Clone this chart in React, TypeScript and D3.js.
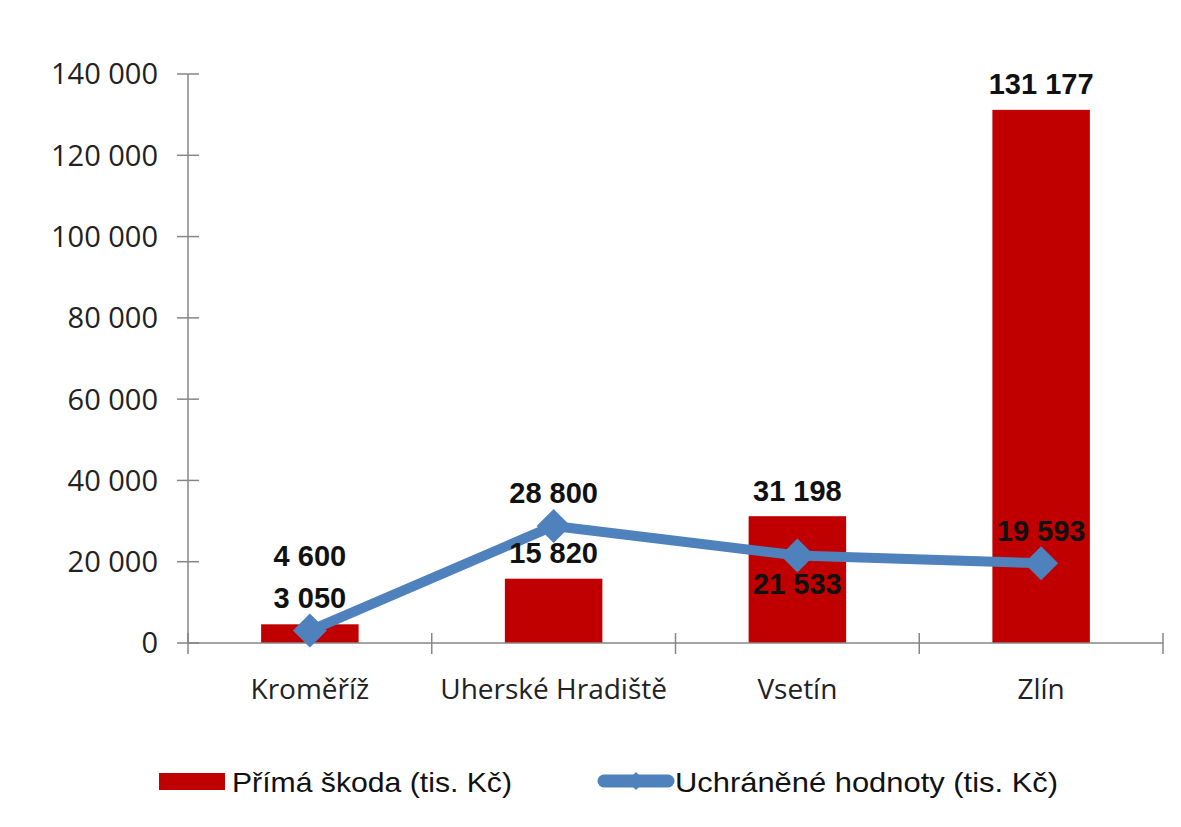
import React from "react";
import * as d3 from "d3";

const categories = ["Kroměříž", "Uherské Hradiště", "Vsetín", "Zlín"];
const primaSkoda = [4600, 15820, 31198, 131177];
const uchraneneHodnoty = [3050, 28800, 21533, 19593];
const lineLabelSide = ["above", "above", "below", "above"];
const yTicks = [0, 20000, 40000, 60000, 80000, 100000, 120000, 140000];
const seriesNames = ["Přímá škoda (tis. Kč)", "Uchráněné hodnoty (tis. Kč)"];

const W = 1181;
const H = 827;
const left = 188;
const right = 1163;
const top = 74;
const bottom = 643;

const BAR = "#C00000";
const LINE = "#4F81BD";
const AXIS = "#868686";

const fmt = (v: number) => d3.format(",")(v).replace(/,/g, " ");

export default function App() {
  const x = d3.scaleBand<string>().domain(categories).range([left, right]).paddingInner(0).paddingOuter(0);
  const y = d3.scaleLinear().domain([0, 140000]).range([bottom, top]);
  const bw = x.bandwidth() * 0.4;
  const cx = (c: string) => (x(c) as number) + x.bandwidth() / 2;

  const linePath = d3
    .line<number>()
    .x((_, i) => cx(categories[i]))
    .y((d) => y(d))(uchraneneHodnoty) as string;

  const diamond = (px: number, py: number, r: number) =>
    `M${px},${py - r}L${px + r},${py}L${px},${py + r}L${px - r},${py}Z`;

  const labelFont = "'Liberation Sans', Arial, sans-serif";
  const axisFont = "'Open Sans', 'DejaVu Sans', sans-serif";

  const lineLabelY = uchraneneHodnoty.map((v, i) =>
    lineLabelSide[i] === "above" ? y(v) - 33 : y(v) + 28
  );
  const barLabelY = primaSkoda.map((v, i) => {
    let c = y(v) - 26;
    if (Math.abs(c - lineLabelY[i]) < 36) c = lineLabelY[i] - 42;
    return c;
  });

  const boundaries = [...categories.map((c) => x(c) as number), right];

  return (
    <div style={{ position: "absolute", left: 0, top: 0 }}>
      <svg width={W} height={H} style={{ display: "block", background: "#fff" }}>
        <rect x={0} y={0} width={W} height={H} fill="#fff" />
        {/* y axis */}
        <line x1={left} x2={left} y1={top} y2={bottom} stroke={AXIS} strokeWidth={1.5} />
        {yTicks.map((t) => (
          <g key={t}>
            <line x1={left - 11} x2={left + 11} y1={y(t)} y2={y(t)} stroke={AXIS} strokeWidth={1.5} />
            <text
              x={158}
              y={y(t)}
              dy="0.36em"
              textAnchor="end"
              fontFamily={axisFont}
              fontSize={29}
              fill="#222"
            >
              {fmt(t)}
            </text>
          </g>
        ))}
        {/* bars */}
        {primaSkoda.map((v, i) => (
          <rect
            key={i}
            x={cx(categories[i]) - bw / 2}
            y={y(v)}
            width={bw}
            height={bottom - y(v)}
            fill={BAR}
          />
        ))}
        {/* x axis */}
        <line x1={left} x2={right} y1={bottom} y2={bottom} stroke={AXIS} strokeWidth={1.5} />
        {boundaries.map((b, i) => (
          <line key={i} x1={b} x2={b} y1={bottom - 10} y2={bottom + 11} stroke={AXIS} strokeWidth={1.5} />
        ))}
        {categories.map((c) => (
          <text
            key={c}
            x={cx(c)}
            y={699}
            textAnchor="middle"
            fontFamily={axisFont}
            fontSize={28}
            fill="#222"
          >
            {c}
          </text>
        ))}
        {/* line */}
        <path d={linePath} fill="none" stroke={LINE} strokeWidth={10} strokeLinejoin="round" />
        {uchraneneHodnoty.map((v, i) => (
          <path key={i} d={diamond(cx(categories[i]), y(v), 17)} fill={LINE} />
        ))}
        {/* labels */}
        {primaSkoda.map((v, i) => (
          <text
            key={"b" + i}
            x={cx(categories[i])}
            y={barLabelY[i]}
            dy="0.36em"
            textAnchor="middle"
            fontFamily={labelFont}
            fontWeight="bold"
            fontSize={29}
            fill="#111"
          >
            {fmt(v)}
          </text>
        ))}
        {uchraneneHodnoty.map((v, i) => (
          <text
            key={"l" + i}
            x={cx(categories[i])}
            y={lineLabelY[i]}
            dy="0.36em"
            textAnchor="middle"
            fontFamily={labelFont}
            fontWeight="bold"
            fontSize={29}
            fill="#111"
          >
            {fmt(v)}
          </text>
        ))}
        {/* legend */}
        <rect x={159} y={773} width={66} height={17} fill={BAR} />
        <text
          x={232}
          y={782}
          dy="0.36em"
          fontFamily={labelFont}
          fontSize={28}
          fill="#111"
          textLength={280}
          lengthAdjust="spacingAndGlyphs"
        >
          {seriesNames[0]}
        </text>
        <line x1={604} x2={668} y1={781} y2={781} stroke={LINE} strokeWidth={13} strokeLinecap="round" />
        <path d={diamond(636, 781, 9)} fill={LINE} />
        <text
          x={675}
          y={782}
          dy="0.36em"
          fontFamily={labelFont}
          fontSize={28}
          fill="#111"
          textLength={383}
          lengthAdjust="spacingAndGlyphs"
        >
          {seriesNames[1]}
        </text>
      </svg>
    </div>
  );
}
